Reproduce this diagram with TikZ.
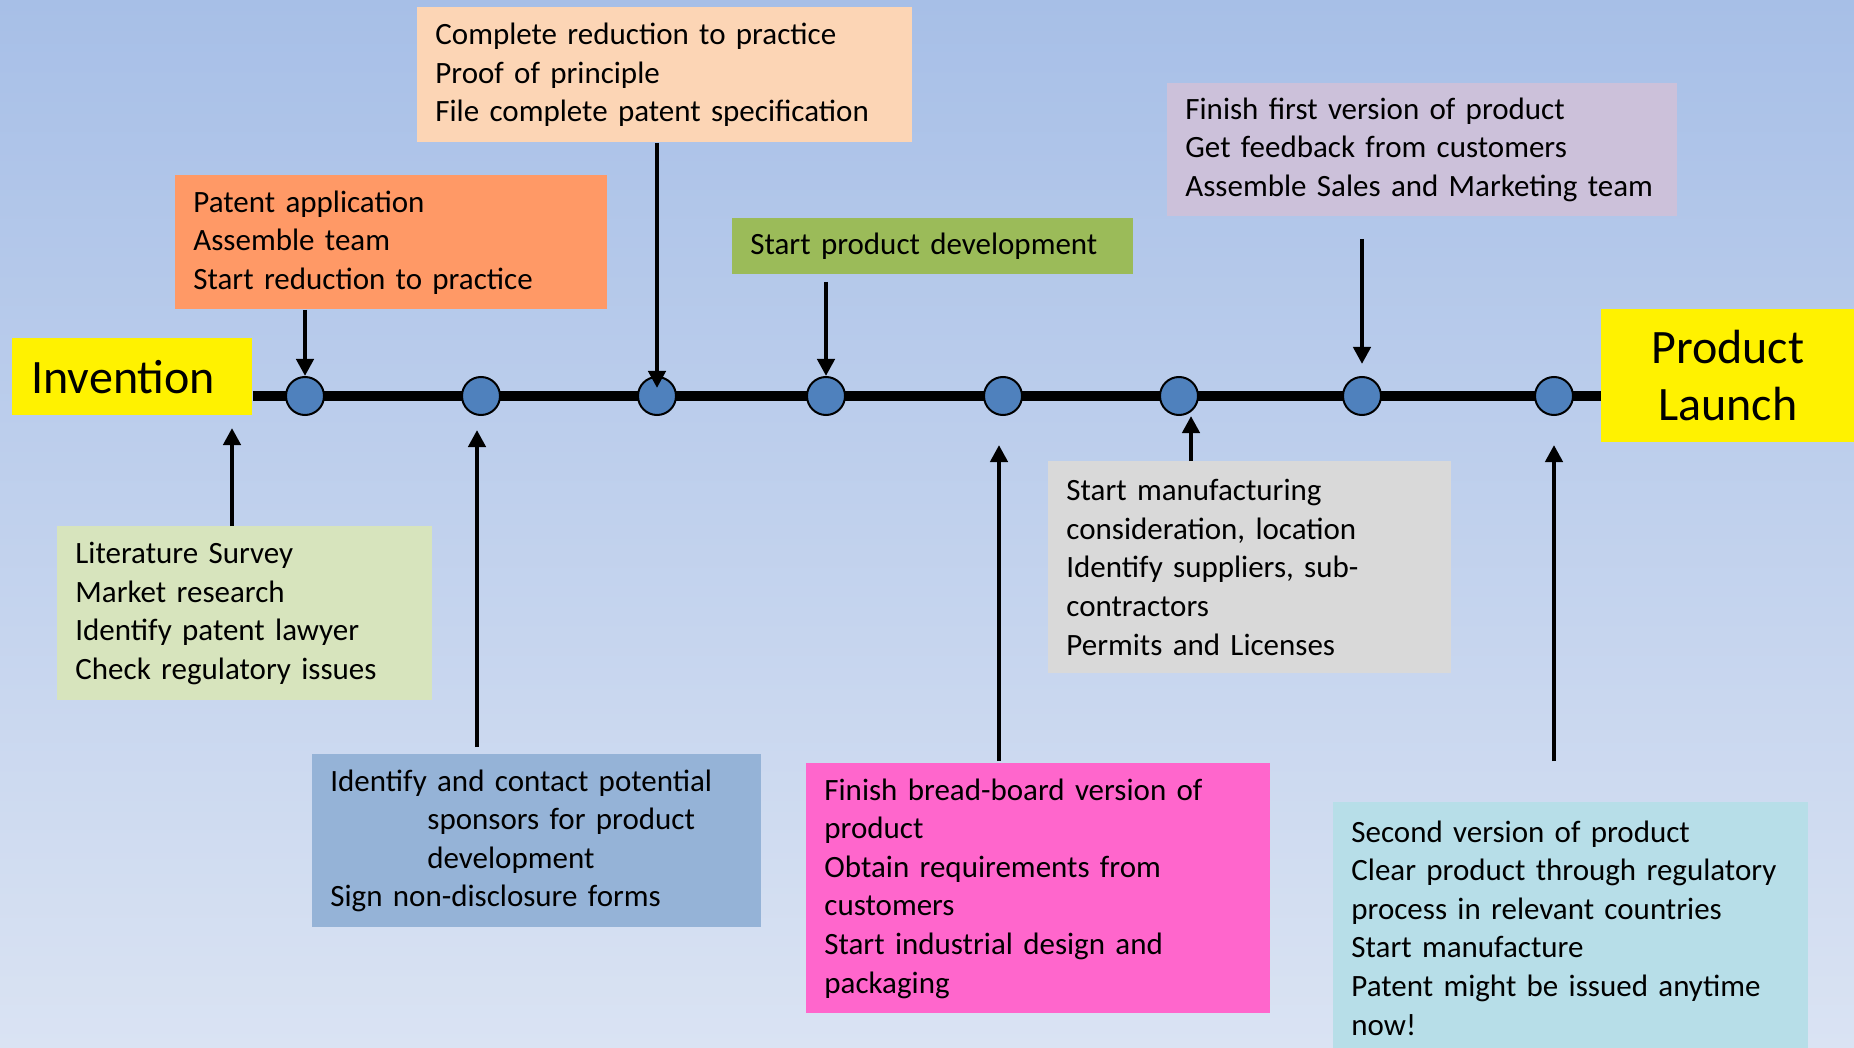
\documentclass[tikz,border=0pt]{standalone}
\usepackage{fontspec}
\setmainfont{Carlito}
\usetikzlibrary{arrows.meta, positioning, shapes.geometric, calc}

\definecolor{bgtop}{HTML}{A7BFE7}
\definecolor{bgbottom}{HTML}{DAE3F3}
\definecolor{peach}{HTML}{FCD5B5}
\definecolor{orange}{HTML}{FF9966}
\definecolor{leaf}{HTML}{9BBB59}
\definecolor{lavender}{HTML}{CCC1DA}
\definecolor{sage}{HTML}{D7E4BD}
\definecolor{steel}{HTML}{95B3D7}
\definecolor{pinkish}{HTML}{FF66CC}
\definecolor{silver}{HTML}{D9D9D9}
\definecolor{aqua}{HTML}{B7DEE8}
\definecolor{dotblue}{HTML}{4F81BD}

\begin{document}
\begin{tikzpicture}[
		x=0.5pt, y=-0.5pt,
		box/.style={anchor=north west, inner xsep=9pt, inner ysep=0pt, align=left,
			font=\fontsize{15.5}{19.3}\selectfont},
		milestone/.style={anchor=north west, inner sep=0pt, fill=yellow,
			font=\fontsize{24}{28.4}\selectfont},
		dot/.style={circle, draw, line width=1pt, fill=dotblue, minimum size=19pt, inner sep=0pt},
		timeline/.style={line width=5pt},
		arrow/.style={-{Triangle[length=8.5pt, width=8.5pt]}, line width=2.3pt}
		]
		
		\useasboundingbox (0,0) rectangle (1854,1048);
		\shade[top color=bgtop, bottom color=bgbottom] (0,0) rectangle (1854,1048);
		
		% End points
		\node[milestone, minimum width=120pt, minimum height=38.5pt, align=left, inner xsep=9.5pt, text width=101pt] (invention) at (12,338) {Invention};
		\node[milestone, minimum width=126.5pt, minimum height=66.5pt, align=center] (launch) at (1601,309) {Product\\Launch};
		
		% Axis and dots
		\coordinate (axis) at (0,396);
		\draw[timeline] (invention.east |- axis) -- (launch.west |- axis);
		\foreach \x [count=\i] in {305,481,657,826,1003,1179,1362,1554}
			\node[dot] (c\i) at (\x,396) {};
		
		% Boxes above
		\node[box, fill=peach, text width=229.5pt, minimum height=67.5pt] (proof) at (417,7)
			{Complete reduction to practice\\Proof of principle\\File complete patent specification};
		\node[box, fill=orange, text width=198pt, minimum height=67pt] (patent) at (175,175)
			{Patent application\\Assemble team\\Start reduction to practice};
		\node[box, fill=leaf, text width=182.5pt, minimum height=28pt] (develop) at (732,218)
			{Start product development};
		\node[box, fill=lavender, text width=237pt, minimum height=66.5pt] (firstver) at (1167,83)
			{Finish first version of product\\Get feedback from customers\\Assemble Sales and Marketing team};
		
		% Boxes below
		\node[box, fill=sage, text width=169.5pt, minimum height=87pt] (survey) at (57,526)
			{Literature Survey\\Market research\\Identify patent lawyer\\Check regulatory issues};
		\node[box, fill=steel, text width=206.5pt, minimum height=86.5pt] (sponsor) at (312,754)
			{Identify and contact potential\\\hspace*{48.5pt}sponsors for product\\\hspace*{48.5pt}development\\Sign non-disclosure forms};
		\node[box, fill=pinkish, text width=214pt, minimum height=125pt] (bread) at (806,763)
			{Finish bread-board version of\\product\\Obtain requirements from\\customers\\Start industrial design and\\packaging};
		\node[box, fill=silver, text width=183.5pt, minimum height=106pt] (manuf) at (1048,461)
			{Start manufacturing\\consideration, location\\Identify suppliers, sub-\\contractors\\Permits and Licenses};
		\node[box, fill=aqua, text width=219.5pt, minimum height=125.5pt] (second) at (1333,802)
			{Second version of product\\Clear product through regulatory\\process in relevant countries\\Start manufacture\\Patent might be issued anytime\\now!};
		
		% Arrows down
		\draw[arrow] (patent.south -| c1) -- (c1.north);
		\draw[arrow, shorten >=-6pt] (proof.south -| c3) -- (c3.north);
		\draw[arrow, shorten <=3.5pt] (develop.south -| c4) -- (c4.north);
		\draw[arrow, shorten <=11pt, shorten >=6pt] (firstver.south -| c7) -- (c7.north);
		
		% Arrows up
		\coordinate (inv-tip) at (232,428);
		\draw[arrow] (survey.north -| inv-tip) -- (inv-tip);
		\coordinate (sp-tip) at ([xshift=-2pt]c2.south);
		\draw[arrow, shorten <=3.5pt, shorten >=7pt] (sponsor.north -| sp-tip) -- (sp-tip);
		\coordinate (bb-tip) at ([xshift=-2pt]c5.south);
		\draw[arrow, shorten <=1pt, shorten >=14.5pt] (bread.north -| bb-tip) -- (bb-tip);
		\coordinate (mf-tip) at ([xshift=6pt]c6.south);
		\draw[arrow] (manuf.north -| mf-tip) -- (mf-tip);
		\draw[arrow, shorten <=20.5pt, shorten >=14.5pt] (second.north -| c8) -- (c8.south);
		
	\end{tikzpicture}
\end{document}
